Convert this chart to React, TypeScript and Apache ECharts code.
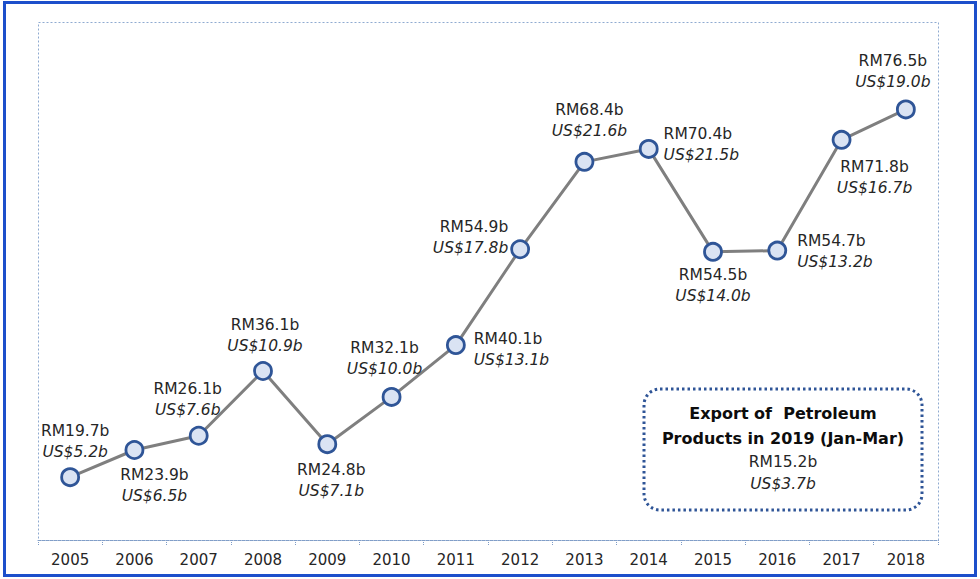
import React, { useEffect, useRef } from "react";
import * as echarts from "echarts";

const years = ["2005", "2006", "2007", "2008", "2009", "2010", "2011", "2012", "2013", "2014", "2015", "2016", "2017", "2018"];
const rmValues = [19.7, 23.9, 26.1, 36.1, 24.8, 32.1, 40.1, 54.9, 68.4, 70.4, 54.5, 54.7, 71.8, 76.5];
const usValues = ["5.2", "6.5", "7.6", "10.9", "7.1", "10.0", "13.1", "17.8", "21.6", "21.5", "14.0", "13.2", "16.7", "19.0"];
const labelPositions = ["top", "bottom", "top", "top", "bottom", "top", "right", "left", "top", "right", "bottom", "right", "bottom", "top"];
const labelOffsets = [[5, 0], [20, 0], [-11, 0], [2, 0], [4, 0], [-7, -3], [3, 4], [3, -12], [5, -5], [0, -4], [0, -2], [5, 1], [33, 2], [-13, -2]];

const FONT = "'DejaVu Sans', sans-serif";

export default function App() {
  const ref = useRef<HTMLDivElement>(null);
  useEffect(() => {
    document.body.style.margin = "0";
    const chart = echarts.init(ref.current!, undefined, { renderer: "svg" });
    const data = rmValues.map((v, i) => ({
      value: v,
      label: {
        position: labelPositions[i] as any,
        offset: labelOffsets[i],
        formatter: `{a|RM${v.toFixed(1)}b}\n{b|US$${usValues[i]}b}`,
      },
    }));
    chart.setOption({
      animation: false,
      backgroundColor: "#ffffff",
      grid: { left: 38, top: 22, right: 42, bottom: 39 },
      xAxis: {
        type: "category",
        data: years,
        boundaryGap: true,
        axisLine: { lineStyle: { color: "#7f9cc7", type: "dotted", width: 1 } },
        axisTick: { show: true, length: 5, lineStyle: { color: "#7f9cc7", type: "dotted" } },
        axisLabel: { color: "#262626", fontSize: 15, fontFamily: FONT, margin: 12 },
      },
      yAxis: { type: "value", min: 10, max: 90, show: false, splitLine: { show: false } },
      series: [
        {
          type: "line",
          data,
          symbol: "circle",
          symbolSize: 17,
          lineStyle: { color: "#7f7f7f", width: 3 },
          itemStyle: { color: "#dae3f3", borderColor: "#2f5597", borderWidth: 2.8 },
          label: {
            show: true,
            distance: 5,
            color: "#262626",
            fontFamily: FONT,
            rich: {
              a: { fontSize: 15.5, fontFamily: FONT, color: "#262626", lineHeight: 21 },
              b: { fontSize: 15.5, fontFamily: FONT, fontStyle: "italic", color: "#262626", lineHeight: 21 },
            },
          },
          z: 3,
        },
      ],
      graphic: [
        {
          type: "rect",
          shape: { x: 4.5, y: 2.5, width: 971, height: 573 },
          style: { fill: "none", stroke: "#1c4fcb", lineWidth: 3 },
          silent: true,
        },
        {
          type: "rect",
          shape: { x: 38.5, y: 22.5, width: 900, height: 518 },
          style: { fill: "none", stroke: "#8faad0", lineWidth: 1, lineDash: [2, 2] },
          silent: true,
        },
        {
          type: "rect",
          shape: { x: 644, y: 389, width: 278, height: 121, r: 16 },
          style: { fill: "#ffffff", stroke: "#2f5597", lineWidth: 3, lineDash: [2.5, 3] },
          silent: true,
          z: 10,
        },
        {
          type: "text",
          x: 783,
          y: 413,
          z: 11,
          style: { text: "Export of  Petroleum", font: `bold 16px ${FONT}`, fill: "#0d0d0d", align: "center", verticalAlign: "middle" },
        },
        {
          type: "text",
          x: 783,
          y: 438,
          z: 11,
          style: { text: "Products in 2019 (Jan-Mar)", font: `bold 16px ${FONT}`, fill: "#0d0d0d", align: "center", verticalAlign: "middle" },
        },
        {
          type: "text",
          x: 783,
          y: 462,
          z: 11,
          style: { text: "RM15.2b", font: `15.5px ${FONT}`, fill: "#262626", align: "center", verticalAlign: "middle" },
        },
        {
          type: "text",
          x: 783,
          y: 484,
          z: 11,
          style: { text: "US$3.7b", font: `italic 15.5px ${FONT}`, fill: "#262626", align: "center", verticalAlign: "middle" },
        },
      ],
    });
    return () => chart.dispose();
  }, []);
  return <div ref={ref} style={{ width: 980, height: 579 }} />;
}
